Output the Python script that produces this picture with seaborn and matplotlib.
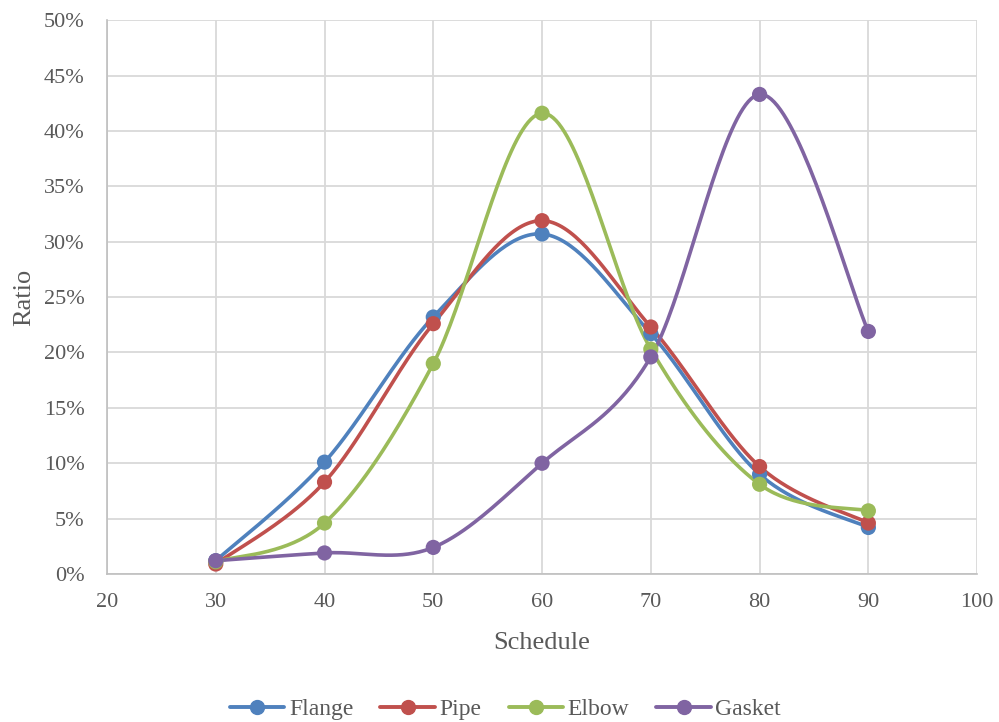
import numpy as np
import pandas as pd
import matplotlib
matplotlib.use("Agg")
import matplotlib.pyplot as plt
import seaborn as sns
from matplotlib.ticker import PercentFormatter, MultipleLocator

schedule = [30, 40, 50, 60, 70, 80, 90]
flange = [1.2, 10.1, 23.2, 30.7, 21.7, 9.0, 4.2]
pipe = [0.9, 8.3, 22.6, 31.9, 22.3, 9.7, 4.6]
elbow = [1.1, 4.6, 19.0, 41.6, 20.3, 8.1, 5.7]
gasket = [1.2, 1.9, 2.4, 10.0, 19.6, 43.3, 21.9]

series_names = ["Flange", "Pipe", "Elbow", "Gasket"]
colors = ["#4F81BD", "#C0504D", "#9BBB59", "#8064A2"]

sns.set_theme(style="white")
plt.rcParams['font.family'] = ['Liberation Serif', 'DejaVu Serif']
text_color = "#595959"


def smooth(xs, ys, n=40):
    # Excel-style smoothed line: cubic Bezier (Catmull-Rom) through the points
    xs = np.asarray(xs, float)
    ys = np.asarray(ys, float)
    P = np.column_stack([xs, ys])
    m = len(P)
    out = []
    t = np.linspace(0, 1, n)[:, None]
    for i in range(m - 1):
        p0 = P[i - 1] if i > 0 else P[i]
        p1 = P[i]
        p2 = P[i + 1]
        p3 = P[i + 2] if i + 2 < m else P[i + 1]
        c1 = p1 + (p2 - p0) / 6.0
        c2 = p2 - (p3 - p1) / 6.0
        seg = ((1 - t) ** 3) * p1 + 3 * ((1 - t) ** 2) * t * c1 + 3 * (1 - t) * t ** 2 * c2 + t ** 3 * p2
        out.append(seg if i == 0 else seg[1:])
    arr = np.vstack(out)
    return arr[:, 0], arr[:, 1]


fig = plt.figure(figsize=(9.99, 7.22), dpi=100)
ax = fig.add_axes([0.1071, 0.205, 0.871, 0.767])

df = pd.DataFrame({"Schedule": schedule, "Flange": flange, "Pipe": pipe,
                   "Elbow": elbow, "Gasket": gasket})
long = df.melt(id_vars="Schedule", var_name="Series", value_name="Ratio")

handles = []
for name, c in zip(series_names, colors):
    sx, sy = smooth(df["Schedule"], df[name])
    ax.plot(sx, sy, color=c, lw=2.6, solid_capstyle="round", zorder=3)
sns.scatterplot(data=long, x="Schedule", y="Ratio", hue="Series",
                palette=dict(zip(series_names, colors)), s=120,
                edgecolor="none", ax=ax, zorder=4, legend=False)
for name, c in zip(series_names, colors):
    h, = ax.plot([], [], color=c, lw=2.8, marker="o", markersize=10, label=name)
    handles.append(h)

ax.set_xlim(20, 100)
ax.set_ylim(0, 50)
ax.xaxis.set_major_locator(MultipleLocator(10))
ax.yaxis.set_major_locator(MultipleLocator(5))
ax.yaxis.set_major_formatter(PercentFormatter(decimals=0))
ax.grid(True, color="#d9d9d9", lw=1.3)
ax.set_axisbelow(True)
for s in ["top", "right"]:
    ax.spines[s].set_visible(False)
for s in ["left", "bottom"]:
    ax.spines[s].set_color("#bfbfbf")
    ax.spines[s].set_linewidth(1.2)
ax.tick_params(axis="both", labelsize=16, colors=text_color, length=0)
ax.tick_params(axis="y", pad=16)
ax.tick_params(axis="x", pad=14)
ax.set_xlabel("Schedule", fontsize=19, color=text_color, labelpad=14)
ax.set_ylabel("Ratio", fontsize=19, color=text_color, labelpad=6)

fig.legend(handles=handles, loc="center", bbox_to_anchor=(0.506, 0.018),
           ncol=4, frameon=False, fontsize=17, handlelength=2.3,
           columnspacing=1.15, handletextpad=0.2, labelcolor=text_color)

fig.savefig("out.png", dpi=100)
